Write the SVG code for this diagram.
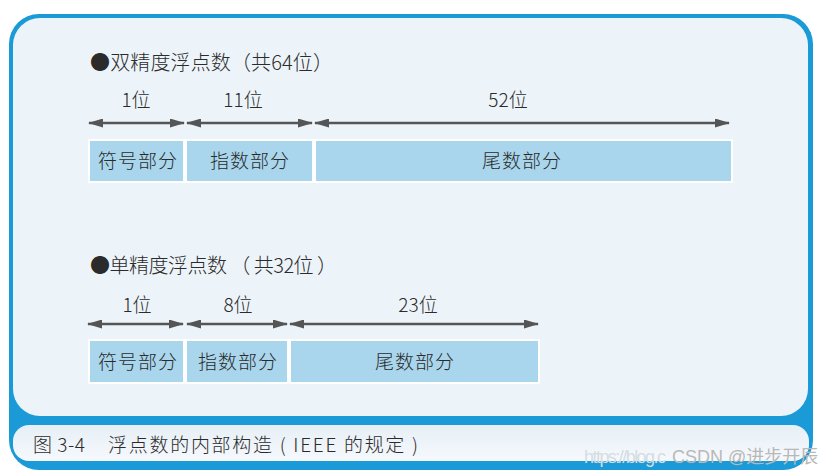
<svg xmlns="http://www.w3.org/2000/svg" width="837" height="474" viewBox="0 0 837 474">
<style>
text { font-family: "Noto Sans CJK SC", "Liberation Sans", sans-serif; fill: #2b2b2b; font-weight: 300; }
.t { font-size: 20px; }
.b { font-size: 19px; text-anchor: middle; }
.box { fill: #a9d6ec; stroke: #ffffff; stroke-width: 2; }
.bl { font-size: 19px; text-anchor: middle; letter-spacing: 1px; }
.arr { stroke: #555555; stroke-width: 2.6; fill: none; marker-start: url(#ah); marker-end: url(#ah); }
.wm { font-family: "Liberation Sans", "Noto Sans CJK SC", sans-serif; fill: #b8b8b8; font-size: 18px; font-weight: 400; }
</style>
<defs>
<marker id="ah" viewBox="0 0 15 9" refX="14" refY="4.5" markerWidth="15" markerHeight="9" markerUnits="userSpaceOnUse" orient="auto-start-reverse">
<path d="M0,0 L15,4.5 L0,9 z" fill="#555555"/>
</marker>
<linearGradient id="cap" x1="0" y1="0" x2="0" y2="1">
<stop offset="0" stop-color="#e6eff6"/>
<stop offset="1" stop-color="#f6f9fc"/>
</linearGradient>
</defs>
<rect width="837" height="474" fill="#ffffff"/>
<g id="frame">
<rect x="9" y="14" width="804" height="456" rx="30" fill="#1a9ad6"/>
<rect x="13" y="18" width="795" height="398" rx="27" fill="#edf4f9"/>
<rect x="13" y="425" width="796" height="36" rx="16" fill="url(#cap)"/>
</g>
<g id="double-title"><text class="t" x="90" y="70" textLength="243">●双精度浮点数（共64位）</text></g>
<g id="double-labels">
<text class="b" x="136" y="107">1位</text>
<text class="b" x="243" y="107">11位</text>
<text class="b" x="508" y="107">52位</text>
</g>
<g id="double-sign"><rect class="box" x="89" y="140" width="95" height="42"/><text class="bl" x="138" y="168">符号部分</text></g>
<g id="double-exp"><rect class="box" x="186" y="140" width="127" height="42"/><text class="bl" x="250" y="168">指数部分</text></g>
<g id="double-man"><rect class="box" x="315" y="140" width="417" height="42"/><text class="bl" x="522" y="168">尾数部分</text></g>
<g id="single-title"><text class="t" x="90" y="273" textLength="247">●单精度浮点数 （ 共32位 ）</text></g>
<g id="single-labels">
<text class="b" x="137" y="312">1位</text>
<text class="b" x="238" y="312">8位</text>
<text class="b" x="418" y="312">23位</text>
</g>
<g id="single-sign"><rect class="box" x="89" y="340" width="95" height="43"/><text class="bl" x="138" y="369">符号部分</text></g>
<g id="single-exp"><rect class="box" x="186" y="340" width="102" height="43"/><text class="bl" x="238" y="369">指数部分</text></g>
<g id="single-man"><rect class="box" x="290" y="340" width="249" height="43"/><text class="bl" x="415" y="369">尾数部分</text></g>
<g id="connectors">
<line class="arr" x1="89" y1="123" x2="184" y2="123"/>
<line class="arr" x1="187" y1="123" x2="312" y2="123"/>
<line class="arr" x1="315" y1="123" x2="729" y2="123"/>
<line class="arr" x1="88" y1="324" x2="183" y2="324"/>
<line class="arr" x1="187" y1="324" x2="287" y2="324"/>
<line class="arr" x1="290" y1="324" x2="538" y2="324"/>
</g>
<g id="caption">
<text x="33" y="452" style="font-size:19px" textLength="52">图 3-4</text>
<text x="108" y="452" style="font-size:19px" textLength="310">浮点数的内部构造 ( IEEE 的规定 )</text>
</g>
<g id="watermark">
<text class="wm" x="584" y="463" style="fill:#d4dde3" textLength="82">https://blog.c</text>
<text class="wm" x="672" y="463">CSDN @进步开辰</text>
</g>
</svg>
